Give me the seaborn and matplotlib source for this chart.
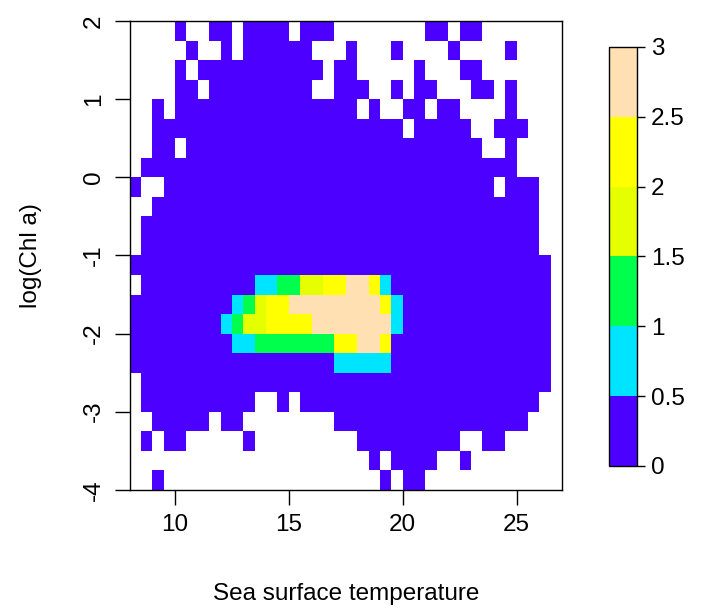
import numpy as np
import pandas as pd
import matplotlib
matplotlib.use("Agg")
import matplotlib.pyplot as plt
import seaborn as sns
from matplotlib.colors import ListedColormap

plt.rcParams['font.family'] = ['Liberation Sans', 'DejaVu Sans']

# ---- data ----
# lower edges of sea surface temperature bins (0.5 wide)
sst_bins = [8.0, 8.5, 9.0, 9.5, 10.0, 10.5, 11.0, 11.5, 12.0, 12.5, 13.0, 13.5,
            14.0, 14.5, 15.0, 15.5, 16.0, 16.5, 17.0, 17.5, 18.0, 18.5, 19.0,
            19.5, 20.0, 20.5, 21.0, 21.5, 22.0, 22.5, 23.0, 23.5, 24.0, 24.5,
            25.0, 25.5, 26.0]
sst_width = 0.5
sst_max = 27.0
# lower edges of log(Chl a) bins (0.25 high), top row first
chl_bins = [1.75, 1.5, 1.25, 1.0, 0.75, 0.5, 0.25, 0.0, -0.25, -0.5, -0.75, -1.0,
            -1.25, -1.5, -1.75, -2.0, -2.25, -2.5, -2.75, -3.0, -3.25, -3.5,
            -3.75, -4.0]
chl_height = 0.25

# density class per cell: '.' empty, '0' 0-0.5, 'c' 0.5-1, 'g' 1-1.5,
# 'l' 1.5-2, 'y' 2-2.5, 'p' 2.5-3
level_values = {'.': np.nan, '0': 0.25, 'c': 0.75, 'g': 1.25,
                'l': 1.75, 'y': 2.25, 'p': 2.75}
grid_rows = [
    "....0..00.0000.000........00.00......",
    ".....0..0.000000...0...0....0....0...",
    "....0.00000000000.00.....0...00......",
    "....00.000000000..000..0.00...00.0...",
    "..0.0000000000000000.0..00.00....0...",
    "..0000000000000000000000.00000..000..",
    "..00.00000000000000000000000000..0...",
    ".000000000000000000000000000000000...",
    "0..00000000000000000000000000000.000.",
    "..0000000000000000000000000000000000.",
    ".00000000000000000000000000000000000.",
    ".00000000000000000000000000000000000.",
    "0000000000000000000000000000000000000",
    ".0000000000ccggllyyppyc00000000000000",
    "000000000cglyyppppppppyc0000000000000",
    "00000000cgllyyyypppppppc0000000000000",
    "000000000ccgggggggyyppy00000000000000",
    "000000000000000000ccccc00000000000000",
    ".000000000000000000000000000000000000",
    ".0000000000..0.000000000000000000000.",
    "..00000.00........00000000000000000..",
    ".0.00.....0.........000000000..00....",
    ".....................0.0000..0.......",
    "..0...................0.00...........",
]

colors = ["#4C00FF", "#00E5FF", "#00FF4D", "#E6FF00", "#FFFF00", "#FFE0B3"]
cbar_ticks = [0, 0.5, 1, 1.5, 2, 2.5, 3]
cbar_ticklabels = ["0", "0.5", "1", "1.5", "2", "2.5", "3"]
x_ticks = [10, 15, 20, 25]
y_ticks = [2, 1, 0, -1, -2, -3, -4]

values = np.array([[level_values[ch] for ch in row] for row in grid_rows])
df = pd.DataFrame(values, index=chl_bins, columns=sst_bins)

# ---- figure ----
fig = plt.figure(figsize=(7.18, 6.08), dpi=100)
ax = fig.add_axes([0.1804, 0.1944, 0.6024, 0.7709])
cax = fig.add_axes([0.8482, 0.2336, 0.039, 0.6891])

sns.heatmap(df, ax=ax, cbar_ax=cax, cmap=ListedColormap(colors),
            vmin=0, vmax=3, linewidths=0,
            cbar_kws={'ticks': cbar_ticks})

def xpos(v):
    return (v - sst_bins[0]) / sst_width

chl_top = chl_bins[0] + chl_height
def ypos(v):
    return (chl_top - v) / chl_height

ax.set_xlim(0, xpos(sst_max))
ax.set_ylim(ypos(chl_bins[-1]), 0)
ax.set_xticks([xpos(v) for v in x_ticks])
ax.set_xticklabels([str(v) for v in x_ticks], rotation=0, fontsize=17.5)
ax.set_yticks([ypos(v) for v in y_ticks])
ax.set_yticklabels([str(v) for v in y_ticks], rotation=90, va='center',
                   fontsize=17.5)
ax.tick_params(axis='both', length=10.5, width=1, color='black', direction='out')
ax.tick_params(axis='x', pad=7)
ax.tick_params(axis='y', pad=7)
for s in ax.spines.values():
    s.set_visible(True)
    s.set_linewidth(1.0)
    s.set_color('black')

ax.set_xlabel("Sea surface temperature", fontsize=17.5, labelpad=34)
ax.set_ylabel("log(Chl a)", fontsize=17.5, labelpad=30)

cb = ax.collections[0].colorbar
cb.outline.set_linewidth(1.0)
cb.outline.set_edgecolor('black')
cax.set_yticklabels(cbar_ticklabels)
cax.tick_params(length=6, width=1, labelsize=17.5, pad=4)

fig.savefig("out.png", dpi=100)
